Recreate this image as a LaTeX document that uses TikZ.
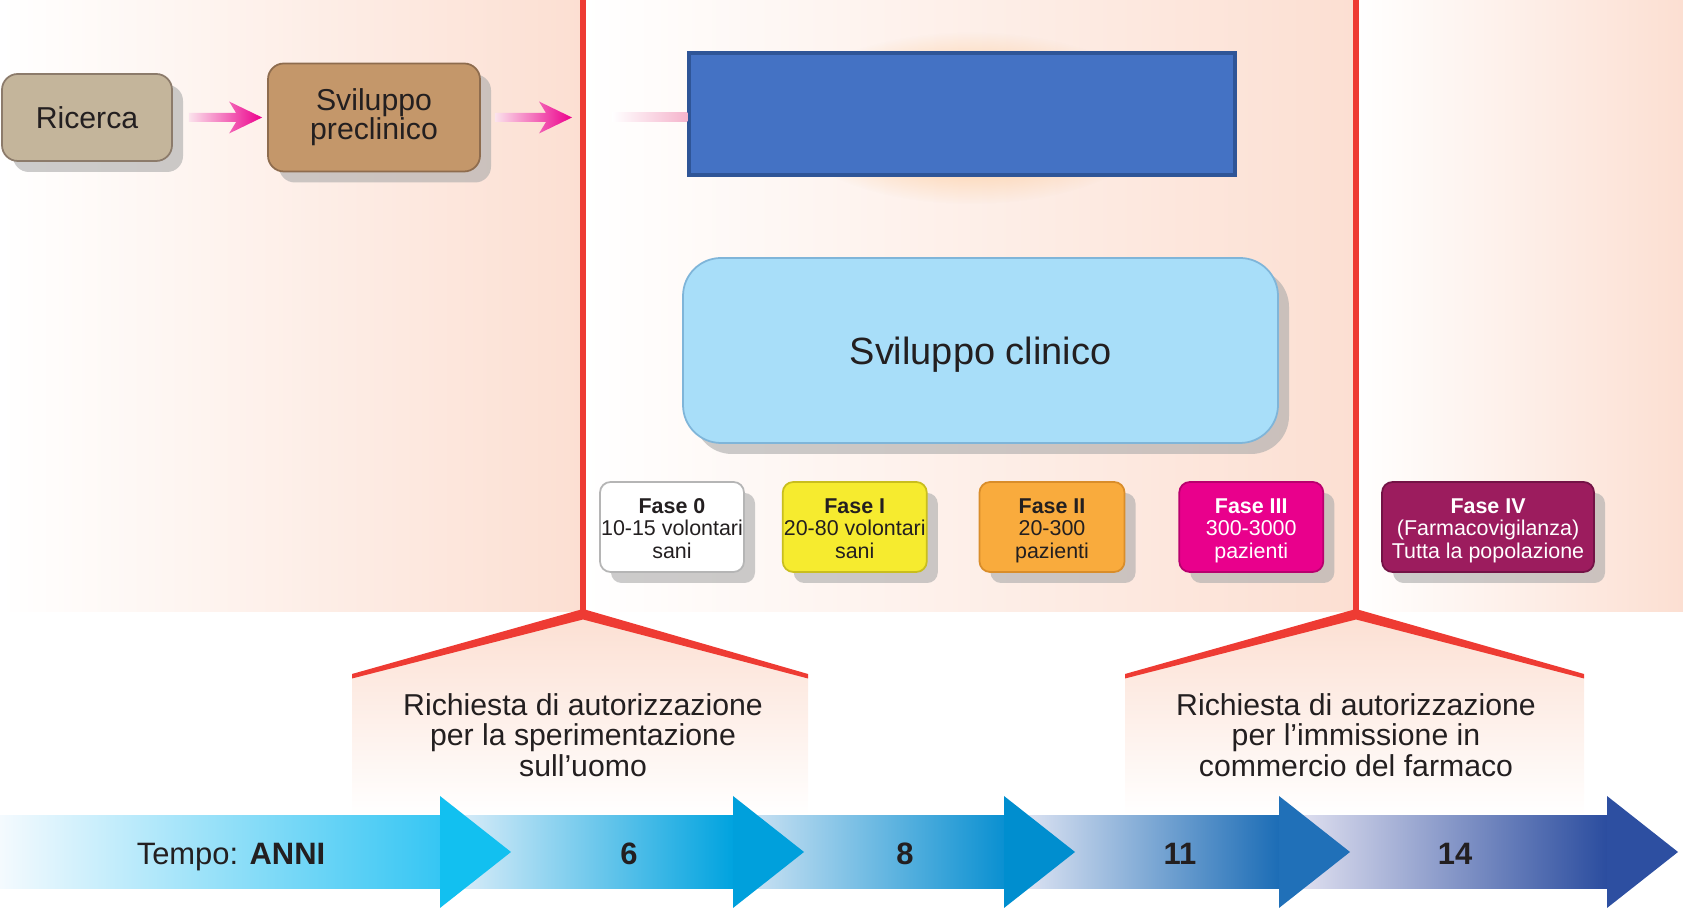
\documentclass[tikz,border=0pt]{standalone}
\usepackage{fontspec}
\setmainfont{Liberation Sans}
\usepackage{xcolor}
\usetikzlibrary{positioning,shadows,calc,fadings}

\definecolor{ink}{HTML}{231F20}
\definecolor{peach}{HTML}{FCDFD2}
\definecolor{gateRed}{HTML}{EE3B33}
\definecolor{shadowgray}{HTML}{AAAAAA}
\definecolor{ricercaTan}{HTML}{C4B59B}
\definecolor{ricercaEdge}{HTML}{8C7B6B}
\definecolor{preclinBrown}{HTML}{C4976A}
\definecolor{preclinEdge}{HTML}{8E6C4E}
\definecolor{blueFill}{HTML}{4472C4}
\definecolor{blueEdge}{HTML}{2F5597}
\definecolor{clinicoBlue}{HTML}{A8DEF9}
\definecolor{clinicoEdge}{HTML}{7FB5D9}
\definecolor{faseZeroEdge}{HTML}{B5B5B5}
\definecolor{faseIYellow}{HTML}{F6EB2F}
\definecolor{faseIEdge}{HTML}{C9BE1E}
\definecolor{faseIIOrange}{HTML}{F9AB3D}
\definecolor{faseIIEdge}{HTML}{D98D2A}
\definecolor{faseIIIPink}{HTML}{E9008C}
\definecolor{faseIIIEdge}{HTML}{B8006E}
\definecolor{faseIVPlum}{HTML}{9C1C5E}
\definecolor{faseIVEdge}{HTML}{731346}
\definecolor{pinkArrow}{HTML}{EC008C}
\definecolor{pinkPale}{HTML}{FBE3EC}
\definecolor{pinkTail}{HTML}{F5B4CC}
\definecolor{glowOrange}{HTML}{FBB974}
\definecolor{tlPaleA}{HTML}{F4FAFE}\definecolor{tlBandA}{HTML}{36C6F3}\definecolor{tlHeadA}{HTML}{12C0F0}
\definecolor{tlPaleB}{HTML}{E8F1FA}\definecolor{tlBandB}{HTML}{00A3DF}\definecolor{tlHeadB}{HTML}{00A0DC}
\definecolor{tlPaleC}{HTML}{D8E7F5}\definecolor{tlBandC}{HTML}{0A90D1}\definecolor{tlHeadC}{HTML}{008ECF}
\definecolor{tlPaleD}{HTML}{ECECF7}\definecolor{tlBandD}{HTML}{1C6DB6}\definecolor{tlHeadD}{HTML}{2070B8}
\definecolor{tlPaleE}{HTML}{EBE9F5}\definecolor{tlBandE}{HTML}{2B4D9F}\definecolor{tlHeadE}{HTML}{2D4FA1}

\tikzfading[name=glow fade, inner color=transparent!0, outer color=transparent!100]

% shaded pink arrow from #1 to the tip #2
\newcommand{\pinkarrow}[2]{%
  \shade[left color=pinkPale, right color=pinkArrow]
    ($(#1)+(0,0.045)$) -- ($(#2)+(-0.26,0.045)$) -- ($(#2)+(-0.33,0.16)$) -- (#2)
    -- ($(#2)+(-0.33,-0.16)$) -- ($(#2)+(-0.26,-0.045)$) -- ($(#1)+(0,-0.045)$) -- cycle;}
\newcommand{\phasehead}[1]{\rule{0pt}{6.3pt}\textbf{#1}}

\begin{document}
\begin{tikzpicture}[line width=0.5pt,
      stage node/.style={draw, rounded corners=4.5pt, align=center, text=ink,
          font=\fontsize{8.6}{8.3}\selectfont, inner sep=0pt,
          drop shadow={shadow xshift=0.11cm, shadow yshift=-0.11cm,
              fill=shadowgray, opacity=0.6}},
      phase node/.style={stage node, rounded corners=3pt, minimum height=0.9cm,
          font=\fontsize{6.1}{6.45}\selectfont},
      request text/.style={align=center, text=ink, font=\fontsize{8.6}{8.7}\selectfont},
      time label/.style={text=ink, anchor=base, font=\fontsize{8.8}{10}\selectfont\bfseries},
      gate line/.style={gateRed, line width=0.065cm}]

    \useasboundingbox (0,0) rectangle (16.83,9.10);

    % background bands
    \shade[left color=white, right color=peach] (0,2.98) rectangle (5.83,9.10);
    \shade[left color=white, right color=peach] (5.83,2.98) rectangle (13.56,9.10);
    \shade[left color=white, right color=peach] (13.56,2.98) rectangle (16.83,9.10);

    \coordinate (gateA) at (5.83,2.98);
    \coordinate (gateAtop) at (5.83,9.10);
    \coordinate (gateB) at (13.56,2.98);
    \coordinate (gateBtop) at (13.56,9.10);

    \foreach \g/\r in {gateA/2.25, gateB/2.28} {
      \shade[top color=peach, bottom color=white]
        ($(\g)+(-2.31,-0.64)$) -- (\g) -- ($(\g)+(\r,-0.64)$)
        -- ($(\g)+(\r,-2.04)$) -- ($(\g)+(-2.31,-2.04)$) -- cycle;
      \fill[gateRed] ($(\g)+(-2.31,-0.62)$) -- ($(\g)+(0,0.03)$) -- ($(\g)+(\r,-0.62)$)
        -- ($(\g)+(\r,-0.665)$) -- ($(\g)+(0,-0.075)$) -- ($(\g)+(-2.31,-0.665)$) -- cycle;
    }
    \draw[gate line] (gateA) -- (gateAtop);
    \draw[gate line] (gateB) -- (gateBtop);

    % stages
    \node[stage node, fill=ricercaTan, draw=ricercaEdge, minimum width=1.70cm,
        minimum height=0.87cm] (ricerca) at (0.87,7.925) {Ricerca};
    \node[stage node, fill=preclinBrown, draw=preclinEdge, minimum width=2.12cm,
        minimum height=1.08cm] (preclin) at (3.74,7.925) {Sviluppo\\preclinico};

    \fill[glowOrange, path fading=glow fade] (9.71,7.92) ellipse (1.9 and 0.86);
    \node[draw=blueEdge, fill=blueFill, line width=0.9pt, minimum width=5.46cm,
        minimum height=1.22cm, inner sep=0pt] (bluebox) at (9.62,7.96) {};

    \node[stage node, rounded corners=0.38cm, fill=clinicoBlue, draw=clinicoEdge,
        minimum width=5.95cm, minimum height=1.85cm,
        font=\fontsize{10.8}{13}\selectfont] (clinico) at (9.805,5.595)
        {\rule{0pt}{10.4pt}Sviluppo clinico};

    % connectors
    \coordinate (a1s) at ($(ricerca.east)+(0.16,0)$);
    \coordinate (a1e) at ($(preclin.west)+(-0.05,0)$);
    \coordinate (a2s) at ($(preclin.east)+(0.14,0)$);
    \coordinate (a2e) at ($(gateA |- preclin.east)+(-0.11,0)$);
    \coordinate (tails) at ($(gateA |- preclin.east)+(0.29,0)$);
    \pinkarrow{a1s}{a1e}
    \pinkarrow{a2s}{a2e}
    \shade[left color=white, right color=pinkTail]
      ($(tails)+(0,0.045)$) rectangle ($(bluebox.west |- tails)+(0,-0.045)$);

    % phases
    \node[phase node, fill=white, draw=faseZeroEdge, minimum width=1.44cm]
        (fase0) at (6.72,3.83) {\phasehead{Fase 0}\\10-15 volontari\\sani\vphantom{p}};
    \node[phase node, fill=faseIYellow, draw=faseIEdge, minimum width=1.44cm]
        (fase1) [right=0.37cm of fase0] {\phasehead{Fase I}\\20-80 volontari\\sani\vphantom{p}};
    \node[phase node, fill=faseIIOrange, draw=faseIIEdge, minimum width=1.45cm]
        (fase2) [right=0.51cm of fase1] {\phasehead{Fase II}\\20-300\\pazienti};
    \node[phase node, fill=faseIIIPink, draw=faseIIIEdge, minimum width=1.44cm, text=white]
        (fase3) [right=0.53cm of fase2] {\phasehead{Fase III}\\300-3000\\pazienti};
    \node[phase node, fill=faseIVPlum, draw=faseIVEdge, minimum width=2.12cm, text=white]
        (fase4) [right=0.57cm of fase3] {\phasehead{Fase IV}\\(Farmacovigilanza)\\Tutta la popolazione};

    \node[request text] (reqA) at (5.83,1.75)
        {Richiesta di autorizzazione\\per la sperimentazione\\sull’uomo};
    \node[request text] (reqB) at (13.56,1.75)
        {Richiesta di autorizzazione\\per l’immissione in\\commercio del farmaco};

    % time axis
    \foreach \xs/\xb/\pale/\deep in {0/4.40/tlPaleA/tlBandA, 4.40/7.33/tlPaleB/tlBandB,
        7.33/10.04/tlPaleC/tlBandC, 10.04/12.79/tlPaleD/tlBandD, 12.79/16.07/tlPaleE/tlBandE}
      \shade[left color=\pale, right color=\deep] (\xs,0.215) rectangle (\xb,0.945);
    \foreach \xb/\head in {4.40/tlHeadA, 7.33/tlHeadB, 10.04/tlHeadC, 12.79/tlHeadD, 16.07/tlHeadE}
      \fill[\head] (\xb,0.02) -- (\xb+0.71,0.58) -- (\xb,1.14) -- cycle;

    \node[time label] (tempo) at (2.31,0.45) {\mdseries Tempo: \bfseries ANNI};
    \node[time label] (anno6) at (6.29,0.45) {6};
    \node[time label] (anno8) at (9.05,0.45) {8};
    \node[time label] (anno11) at (11.80,0.45) {11};
    \node[time label] (anno14) at (14.55,0.45) {14};

  \end{tikzpicture}
\end{document}
